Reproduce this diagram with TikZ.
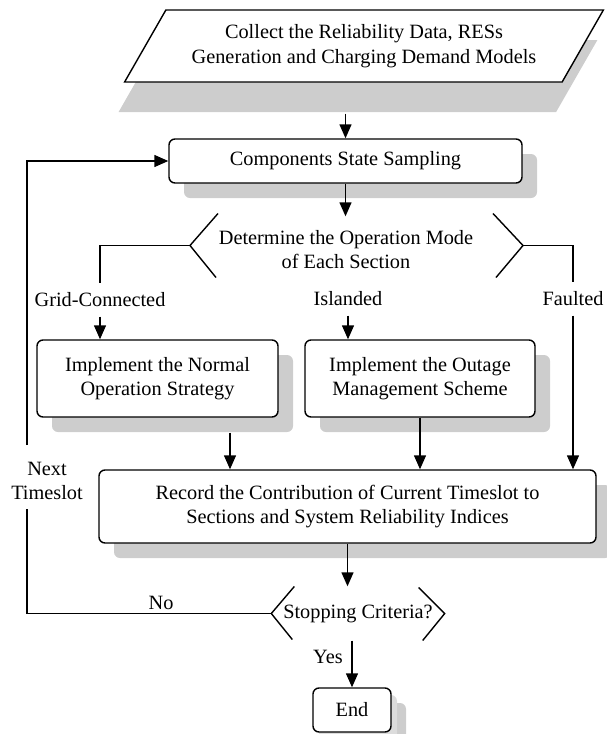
\documentclass[tikz,border=0pt]{standalone}
\usepackage{fontspec}
\setmainfont{Liberation Serif}
\usepackage{xcolor}
\usepackage{tikz}
\usetikzlibrary{arrows.meta,calc,positioning,shapes.geometric,shadows}

\definecolor{shade}{RGB}{205,205,205}

\begin{document}
\begin{tikzpicture}[->,>={Triangle[length=14pt,width=12pt]},x=1pt,y=-1pt,line width=1.4pt,font=\fontsize{20.3}{24.5}\selectfont]
\tikzstyle{proc}=[rectangle, rounded corners=6pt, draw, fill=white, align=center, drop shadow={shadow xshift=15pt, shadow yshift=-15pt, fill=shade, opacity=1}]
\tikzstyle{io}=[trapezium, trapezium left angle=53.6, trapezium right angle=126.4, trapezium stretches=true, draw, fill=white, align=center, minimum width=480pt, minimum height=72pt, drop shadow={shadow xshift=-6pt, shadow yshift=-30pt, fill=shade, opacity=1}]
\tikzstyle{choice}=[rectangle, align=center, inner sep=0pt]
\tikzstyle{lbl}=[inner sep=0pt, minimum height=32pt, align=center]

\useasboundingbox (0,0) rectangle (606,734);

\node[io] (collect) at (364,46) {Collect the Reliability Data, RESs\\Generation and Charging Demand Models};
\node[proc, minimum width=353pt, minimum height=44pt] (comp) [below of=collect, node distance=115pt, xshift=-18.5pt] {Components State Sampling};
\node[choice, minimum height=65pt] (det) [below of=comp, node distance=88.5pt, xshift=0.5pt] {Determine the Operation Mode\\of Each Section};

\node[proc, minimum width=241pt, minimum height=77pt] (normal) [below of=det, node distance=129pt, xshift=-188.5pt] {Implement the Normal\\Operation Strategy};
\node[proc, minimum width=230pt, minimum height=77pt] (outage) [right of=normal, node distance=262.5pt] {Implement the Outage\\Management Scheme};

\node[proc, minimum width=497pt, minimum height=73pt] (record) [below of=det, node distance=257pt, xshift=1.5pt] {Record the Contribution of Current Timeslot to\\Sections and System Reliability Indices};
\node[choice, minimum width=172pt, minimum height=53pt] (stop) [below of=record, node distance=107pt, xshift=10.5pt] {Stopping Criteria?};
\node[proc, minimum width=78pt, minimum height=44pt, drop shadow={shadow xshift=6pt, shadow yshift=-7pt, fill=shade!70, opacity=1}] (end) [below of=stop, node distance=96.5pt, xshift=-6pt] {End};

\node[lbl] (grid) at (100,300) {Grid-Connected};
\node[lbl] (island) at (348,299) {Islanded};
\node[lbl] (fault) at (573,299) {Faulted};
\node[lbl] (next) at (47,481) {Next\\Timeslot};
\node[lbl] (no) at (161,603) {No};
\node[lbl] (yes) at (328,657) {Yes};

\coordinate (detl) at ($(det.center)+(-156,-4)$);
\coordinate (detr) at ($(det.center)+(177,-4)$);
\coordinate (c1) at ($(collect.south -| comp.north)+(0,31)$);
\coordinate (ns) at ($(normal.south)+(72.5,15)$);
\coordinate (up) at (27,445);
\coordinate (down) at (27,509);

% open sides of the two decisions
\draw[-] ($(detl)+(28,-32)$) -- (detl) -- ($(detl)+(26,32)$);
\draw[-] ($(detr)+(-30,-32)$) -- (detr) -- ($(detr)+(-27,32)$);
\draw[-] ($(stop.west)+(23,-27)$) -- (stop.west) -- ($(stop.west)+(21,26)$);
\draw[-] ($(stop.east)+(-26,-26)$) -- (stop.east) -- ($(stop.east)+(-22,27)$);

\path
	(c1) edge (comp.north)
	(comp.south) edge (comp.south |- det.north)
	(grid.south) edge (grid.south |- normal.north)
	(island.south) edge (island.south |- outage.north)
	(fault.south) edge (fault.south |- record.north)
	(ns) edge (ns |- record.north)
	(outage.south) edge (outage.south |- record.north)
	(record.south) edge (record.south |- stop.north)
	(end.north |- stop.south) edge (end.north);

\draw[-] (detl) -| (grid.north);
\draw[-] (detr) -| (fault.north);
\draw[-] (stop.west) -| (down);
\draw (up) |- (comp.west);
\end{tikzpicture}
\end{document}
